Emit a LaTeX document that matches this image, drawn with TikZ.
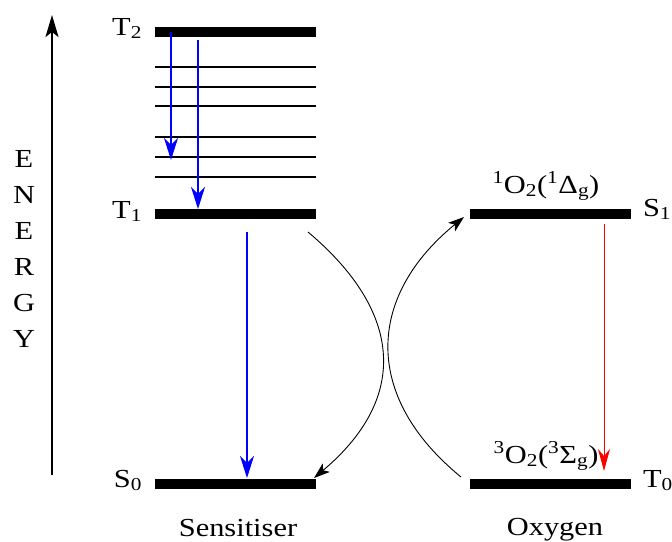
\documentclass[tikz,border=0pt]{standalone}
\usepackage{fontspec}
\setmainfont{Liberation Serif}
\usetikzlibrary{arrows.meta,calc}
\newcommand{\wideText}[1]{\scalebox{1.17}[1]{#1}}
\begin{document}
\begin{tikzpicture}[x=1pt,y=1pt,
  bar/.style={fill=black,minimum width=161pt,minimum height=10pt,inner sep=0pt,outer sep=0pt},
  lvl/.style={fill=black,minimum width=161pt,minimum height=2pt,inner sep=0pt,outer sep=0pt},
  lbl/.style={font=\fontsize{26}{30}\selectfont,inner sep=0pt,outer sep=0pt},
  bluearrow/.style={draw={rgb,255:red,0;green,0;blue,255},fill={rgb,255:red,0;green,0;blue,255},line width=1.5pt,-{Stealth[length=22pt,width=14pt,inset=7pt]}},
  redarrow/.style={draw={rgb,255:red,255;green,0;blue,0},fill={rgb,255:red,255;green,0;blue,0},line width=1pt,-{Stealth[length=22pt,width=12pt,inset=7pt]}},
  curvearrow/.style={draw=black,line width=0.9pt,-{Stealth[length=16pt,width=11pt,inset=4pt]}},
  axisarrow/.style={draw=black,line width=2pt,-{Stealth[length=22pt,width=13pt,inset=5pt]}}
]
\useasboundingbox (0,0) rectangle (672,-541);

% energy axis
\coordinate (axbot) at (52,-475);
\coordinate (axtop) at (52,-15);
\draw[axisarrow] (axbot) -- (axtop);
\node[lbl,align=center,font=\fontsize{26}{36}\selectfont] (energy) at (24,-249) {\wideText{E}\\\wideText{N}\\\wideText{E}\\\wideText{R}\\\wideText{G}\\\wideText{Y}};

% sensitiser levels
\node[bar] (T2) at (235.5,-32) {};
\node[lvl] (lv1) at (235.5,-67) {};
\node[lvl] (lv2) at (235.5,-87) {};
\node[lvl] (lv3) at (235.5,-106) {};
\node[lvl] (lv4) at (235.5,-137) {};
\node[lvl] (lv5) at (235.5,-157) {};
\node[lvl] (lv6) at (235.5,-177) {};
\node[bar] (T1) at (235.5,-214) {};
\node[bar] (S0) at (235.5,-484) {};

% oxygen levels
\node[bar] (S1) at (550.5,-214) {};
\node[bar] (T0) at (550.5,-484) {};

% level labels
\node[lbl,anchor=base east] (lT2) at (142,-35) {\wideText{T\textsubscript{2}}};
\node[lbl,anchor=base east] (lT1) at (142,-218) {\wideText{T\textsubscript{1}}};
\node[lbl,anchor=base east] (lS0) at (142,-487) {\wideText{S\textsubscript{0}}};
\node[lbl,anchor=base west] (lS1) at (643,-216) {\wideText{S\textsubscript{1}}};
\node[lbl,anchor=base west] (lT0) at (643,-487) {\wideText{T\textsubscript{0}}};

% oxygen state labels
\node[lbl,anchor=base] (o2s) at (546,-193) {\wideText{\textsuperscript{1}O\textsubscript{2}(\textsuperscript{1}Δ\textsubscript{g})}};
\node[lbl,anchor=base] (o2t) at (546,-463) {\wideText{\textsuperscript{3}O\textsubscript{2}(\textsuperscript{3}Σ\textsubscript{g})}};

% captions
\node[lbl,anchor=base] (sens) at (238,-536) {\wideText{Sensitiser}};
\node[lbl,anchor=base] (oxy) at (555,-535) {\wideText{Oxygen}};

% blue relaxation arrows
\draw[bluearrow] ([xshift=-64.5pt]T2.center) -- ([xshift=-64.5pt,yshift=-3pt]lv5.center);
\draw[bluearrow] ([xshift=-37.5pt,yshift=-3pt]T2.south) -- ([xshift=-37.5pt]T1.north);
\draw[bluearrow] ([xshift=11.5pt,yshift=-13pt]T1.south) -- ([xshift=11.5pt,yshift=1pt]S0.north);

% red arrow
\draw[redarrow] ([xshift=53.5pt,yshift=-5pt]S1.south) -- ([xshift=53.5pt,yshift=8pt]T0.north);

% energy transfer curves
\coordinate (c1) at ([shift={(-8pt,-13pt)}]T1.south east);
\coordinate (c2) at ([shift={(-2pt,1pt)}]S0.north east);
\draw[curvearrow] (c1) .. controls ($(c1)+(95,-80)$) and ($(c2)+(95,80)$) .. (c2);
\coordinate (c3) at ([shift={(-9pt,2pt)}]T0.north west);
\coordinate (c4) at ([shift={(-6pt,-8pt)}]S1.north west);
\draw[curvearrow] (c3) .. controls ($(c3)+(-98,80)$) and ($(c4)+(-98,-80)$) .. (c4);
\end{tikzpicture}
\end{document}
